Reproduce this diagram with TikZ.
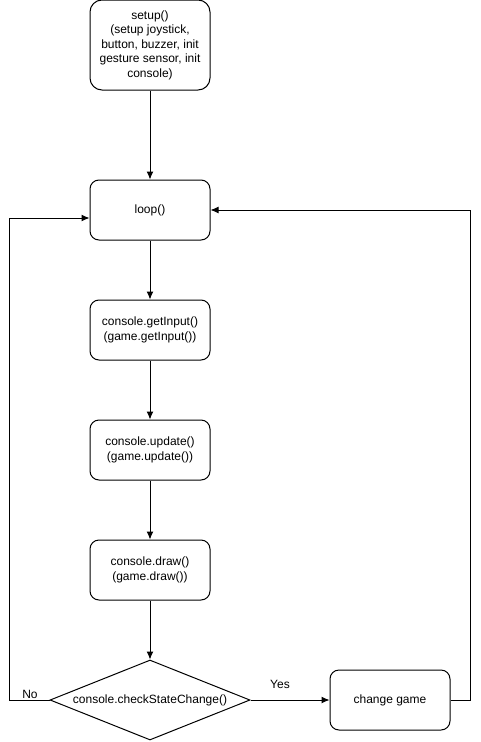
\documentclass[tikz,border=0pt]{standalone}
\usepackage{fontspec}
\setmainfont{Liberation Sans}
\usetikzlibrary{shapes.geometric,calc,arrows.meta}
\tikzset{
  stepbox/.style={draw,line width=1pt,rounded corners=9pt,minimum width=120pt,minimum height=60pt,align=center,inner sep=2pt},
  choice/.style={draw,line width=1pt,diamond,aspect=2.5,minimum width=200pt,minimum height=80pt,inner sep=0pt},
  flow/.style={-{Latex[length=8pt,width=7pt]},line width=1pt}
}
\begin{document}
\begin{tikzpicture}[x=1pt,y=-1pt,font=\fontsize{12}{14.5}\selectfont]
  \useasboundingbox (0,0) rectangle (480,742);
  \node[stepbox,minimum height=90pt,rounded corners=12pt] (setup) at (150,45) {setup()\\(setup joystick,\\button, buzzer, init\\gesture sensor, init\\console)};
  \node[stepbox] (loop) at (150,210) {loop()};
  \node[stepbox] (input) at (150,330) {console.getInput()\\(game.getInput())};
  \node[stepbox] (update) at (150,450) {console.update()\\(game.update())};
  \node[stepbox] (drawgame) at (150,570) {console.draw()\\(game.draw())};
  \node[choice] (check) at (150,700) {console.checkStateChange()};
  \node[stepbox] (change) at (390,700) {change game};
  \draw[flow] (setup) -- (loop);
  \draw[flow] (loop) -- (input);
  \draw[flow] (input) -- (update);
  \draw[flow] (update) -- (drawgame);
  \draw[flow] (drawgame) -- (check);
  \draw[flow] (check) -- (change);
  \draw[flow] (change.east) -- ++(20,0) |- (loop.east);
  \draw[flow] (check.west) -- ++(-40,0) |- ($(loop.west)+(0,8)$);
  \node (no) at (30,694) {No};
  \node (yes) at (280,684) {Yes};
\end{tikzpicture}
\end{document}
